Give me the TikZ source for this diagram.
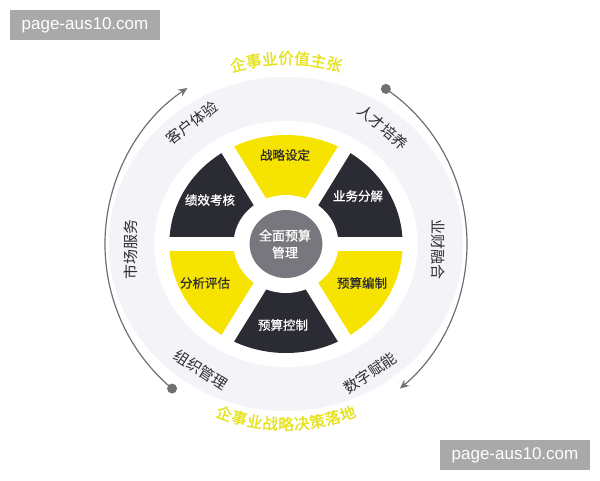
\documentclass[tikz,border=0pt]{standalone}
\usepackage{fontspec}
\newfontfamily\cjk{Noto Sans CJK SC}
\newfontfamily\cjkm[FakeBold=0.8]{Noto Sans CJK SC}
\newfontfamily\cjkb[FakeBold=1.5]{Noto Sans CJK SC}
\newfontfamily\wm{Liberation Sans}
\usetikzlibrary{arrows.meta}
\definecolor{yel}{HTML}{F7E300}
\definecolor{dk}{HTML}{2B2B33}
\definecolor{cgray}{HTML}{77777D}
\definecolor{bandc}{HTML}{F3F3F8}
\definecolor{arcg}{HTML}{707070}
\definecolor{ttl}{HTML}{E6E21E}
\definecolor{txt}{HTML}{2E2E2E}
\definecolor{wmg}{HTML}{A9A9A9}
\tikzset{
  seclabel/.style={font=\cjkm\fontsize{12.5}{15}\selectfont, inner sep=0},
  bandlabel/.style={font=\cjk\fontsize{15}{18}\selectfont, text=txt, inner sep=0},
  ttlchar/.style={font=\cjkb\fontsize{15.5}{18}\selectfont, text=ttl, inner sep=0},
  wmbox/.style={fill=wmg, text=white, font=\wm\fontsize{17}{20}\selectfont, minimum width=150, minimum height=30, inner sep=0},
  arcline/.style={draw=arcg, line width=1.2, -{Stealth[length=9,width=8]}},
}
\begin{document}
\begin{tikzpicture}[x=1pt,y=1pt]
\useasboundingbox (-286,-236) rectangle (314,244);
\fill[white] (-286,-236) rectangle (314,244);
% light band
\fill[bandc] (0,0) ellipse [x radius=177, y radius=167];
\begin{scope}[xscale=1.07]
  \fill[white] (0,0) circle (123);
  \foreach \a/\c in {0/dk,60/yel,120/dk,180/yel,240/dk,300/yel}
    \fill[\c] (0,0) -- (\a:109) arc[start angle=\a, delta angle=60, radius=109] -- cycle;
  \foreach \a in {0,60,...,300}
    \draw[white, line width=14] (0,0) -- (\a:116);
  \fill[white] (0,0) circle (49);
  \fill[cgray] (0,0) circle (34);
\end{scope}
% sector labels
\node[seclabel, text=txt] (s1) at (-1,89) {战略设定};
\node[seclabel, text=white] (s2) at (72,48) {业务分解};
\node[seclabel, text=txt] (s3) at (76,-39) {预算编制};
\node[seclabel, text=white] (s4) at (-3,-81) {预算控制};
\node[seclabel, text=txt] (s5) at (-81,-39) {分析评估};
\node[seclabel, text=white] (s6) at (-76,44) {绩效考核};
\node[seclabel, text=white, align=center, font=\cjkm\fontsize{13}{17}\selectfont] (ctr) at (-1,0) {全面预算\\管理};
% band labels
\node[bandlabel, rotate=38] (b1) at (-94,121) {客户体验};
\node[bandlabel, rotate=-40] (b2) at (97,117) {人才培养};
\node[bandlabel, rotate=-90] (b3) at (152,-5) {业财融合};
\node[bandlabel, rotate=34] (b4) at (84,-129) {数字赋能};
\node[bandlabel, rotate=-33] (b5) at (-85,-126) {组织管理};
\node[bandlabel, rotate=90] (b6) at (-155,-5) {市场服务};
% arcs
\coordinate (la) at (231:181 and 186);
\coordinate (ra) at (56.5:181 and 186);
\draw[arcline] (la) arc[start angle=231, end angle=123, x radius=181, y radius=186];
\fill[arcg] (la) circle (5);
\draw[arcline] (ra) arc[start angle=56.5, end angle=-51, x radius=181, y radius=186];
\fill[arcg] (ra) circle (5);
% titles
\foreach \ch [count=\i] in {企,事,业,价,值,主,张}
  \node[ttlchar, rotate={(4-\i)*5}] (t\i) at ({90+(4-\i)*5}:186) {\ch};
\foreach \ch [count=\i] in {企,事,业,战,略,决,策,落,地}
  \node[ttlchar, rotate={(\i-5)*5}] (u\i) at ({270+(\i-5)*5}:180) {\ch};
% watermarks
\node[wmbox] (w1) at (-201,219) {page-aus10.com};
\node[wmbox] (w2) at (229,-211) {page-aus10.com};
\end{tikzpicture}
\end{document}
